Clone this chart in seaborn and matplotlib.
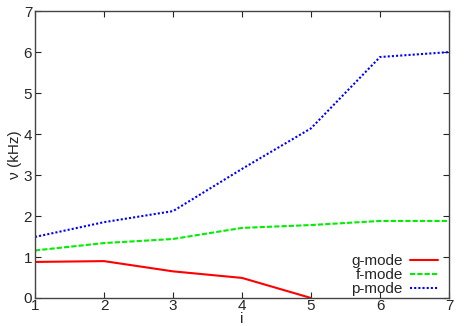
import pandas as pd
import seaborn as sns
import matplotlib.pyplot as plt

sns.set_style("ticks")
plt.rcParams['font.family'] = ['Liberation Sans', 'DejaVu Sans']

# mode frequencies (kHz) vs i
i_vals = [1, 2, 3, 4, 5, 6, 7]
g_mode = [0.88, 0.90, 0.65, 0.49, 0.0]
f_mode = [1.16, 1.34, 1.44, 1.71, 1.78, 1.88, 1.88]
p_mode = [1.49, 1.85, 2.12, 3.15, 4.14, 5.88, 6.0]

rows = []
for name, vals in [('g-mode', g_mode), ('f-mode', f_mode), ('p-mode', p_mode)]:
    for x, y in zip(i_vals, vals):
        rows.append({'i': x, 'nu': y, 'mode': name})
df = pd.DataFrame(rows)

fig = plt.figure(figsize=(4.65, 3.26), dpi=100)
ax = fig.add_axes([0.0753, 0.0859, 0.8903, 0.880])

pal = {'g-mode': '#ff0000', 'f-mode': '#00ee00', 'p-mode': '#0000ff'}
dash = {'g-mode': '', 'f-mode': (2.5, 1), 'p-mode': (1, 1)}
sns.lineplot(data=df, x='i', y='nu', hue='mode', style='mode', palette=pal,
             dashes=dash, linewidth=1.5, ax=ax)

ax.set_xlim(1, 7)
ax.set_ylim(0, 7)
ax.set_xticks(i_vals)
ax.set_yticks(range(0, 8))
ax.tick_params(direction='in', top=True, right=True, labelsize=11, length=4, pad=2)
ax.tick_params(axis='x', pad=1)
for s in ax.spines.values():
    s.set_linewidth(1.0)
    s.set_color('#444444')

ax.set_xlabel('i', fontsize=11, va='baseline')
ax.xaxis.set_label_coords(0.5, -0.0885)
ax.set_ylabel('ν (kHz)', fontsize=11, labelpad=1)

leg = ax.legend(loc='lower right', frameon=False, markerfirst=False,
                fontsize=11, handlelength=1.8, labelspacing=0.0,
                borderaxespad=0.0, handletextpad=0.5,
                bbox_to_anchor=(0.988, -0.015))

fig.savefig('out.png', dpi=100)
